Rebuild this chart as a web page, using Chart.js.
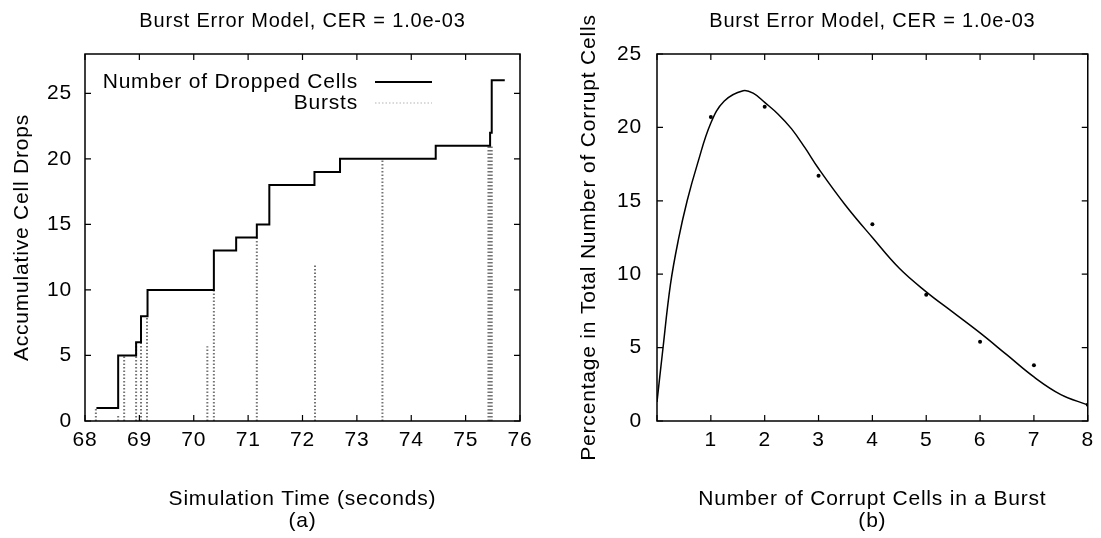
<!DOCTYPE html>
<html lang="en">
<head>
<meta charset="UTF-8">
<title>Burst Error Model</title>
<script src="https://cdn.jsdelivr.net/npm/chart.js"></script>
<style>
  body { margin: 0; background: #fff; }
  .box { position: absolute; top: 0; height: 538px; }
</style>
</head>
<body>
<div class="box" style="left:0;width:550px"><canvas id="chartA"></canvas></div>
<div class="box" style="left:550px;width:551px"><canvas id="chartB"></canvas></div>
<script>
// (a) step plot of dropped cells
var stepTimes  = [68.21, 68.61, 68.94, 69.03, 69.15, 70.37, 70.78, 71.16, 71.39, 72.22, 72.69, 74.45, 75.45, 75.48, 75.72];
var stepCounts = [1, 5, 6, 8, 10, 13, 14, 15, 18, 19, 20, 21, 22, 26, 26];
// bursts (repeated times = several bursts on top of each other)
var burstTimes   = [68.20, 68.61, 68.72, 68.72, 68.94, 69.03, 69.03, 69.14, 69.14, 70.25, 70.37, 70.37, 71.16, 71.16, 71.16, 72.23, 73.47, 73.47, 73.47, 75.42, 75.44, 75.46, 75.48];
var burstHeights = [1, 0.5, 5, 5, 6, 8, 8, 8, 8, 5.7, 10, 10, 14, 14, 14, 12, 20, 20, 20, 21, 21, 21, 21];
var xTicksA = [68, 69, 70, 71, 72, 73, 74, 75, 76];
var yTicksA = [0, 5, 10, 15, 20, 25];

// (b) distribution of burst sizes
var burstSizes = [1, 2, 3, 4, 5, 6, 7, 8];
var percents   = [20.7, 21.4, 16.7, 13.4, 8.6, 5.4, 3.8, 1.1];
var fitX = [0, 0.1, 0.25, 0.4, 0.56, 0.75, 1.0, 1.25, 1.6, 1.8, 2.0, 2.25, 2.5, 2.75, 3.0, 3.5, 4.0, 4.5, 5.0, 5.5, 6.0, 6.5, 7.0, 7.5, 8.0];
var fitY = [1.3, 4.6, 9.3, 12.4, 15.0, 17.5, 20.3, 21.8, 22.5, 22.3, 21.7, 20.9, 19.9, 18.6, 17.2, 14.7, 12.5, 10.4, 8.8, 7.4, 6.0, 4.5, 3.0, 1.8, 1.1];
var yTicksB = [0, 5, 10, 15, 20, 25];

var FONT = '"Liberation Sans", Arial, Helvetica, sans-serif';
Chart.defaults.font.family = FONT;
Chart.defaults.color = '#000';

// slightly wider letter spacing, like the scanned figure
var spacing = {
  id: 'spacing',
  beforeUpdate: function(c) { c.ctx.letterSpacing = '0.8px'; },
  beforeLayout: function(c) { c.ctx.letterSpacing = '0.8px'; },
  beforeDraw: function(c) { c.ctx.letterSpacing = '0.8px'; }
};

// gnuplot style frame with inward ticks on all four sides
var frame = {
  id: 'frame',
  afterDatasetsDraw: function(c) {
    var ctx = c.ctx, a = c.chartArea, len = 6;
    var xs = c.scales.x, ys = c.scales.y;
    ctx.save();
    ctx.strokeStyle = '#000';
    ctx.lineWidth = 1.5;
    ctx.strokeRect(a.left, a.top, a.right - a.left, a.bottom - a.top);
    ctx.lineWidth = 1.2;
    ctx.beginPath();
    xs.ticks.forEach(function(t) {
      var px = xs.getPixelForValue(t.value);
      ctx.moveTo(px, a.bottom); ctx.lineTo(px, a.bottom - len);
      ctx.moveTo(px, a.top); ctx.lineTo(px, a.top + len);
    });
    ys.ticks.forEach(function(t) {
      var py = ys.getPixelForValue(t.value);
      ctx.moveTo(a.left, py); ctx.lineTo(a.left + len, py);
      ctx.moveTo(a.right, py); ctx.lineTo(a.right - len, py);
    });
    ctx.stroke();
    ctx.restore();
  }
};

// key drawn inside the plot, text right aligned, sample line to the right
var keyBox = {
  id: 'keyBox',
  afterDatasetsDraw: function(c) {
    var ctx = c.ctx, a = c.chartArea;
    var tx = a.left + 273, y0 = a.top + 28;
    ctx.save();
    ctx.font = '21px ' + FONT;
    ctx.fillStyle = '#000';
    ctx.textAlign = 'right';
    ctx.textBaseline = 'middle';
    c.data.datasets.forEach(function(ds, i) {
      var y = y0 + i * 21;
      ctx.fillText(ds.label, tx, y);
      ctx.beginPath();
      ctx.strokeStyle = i === 0 ? ds.borderColor : 'rgba(0,0,0,0.15)';
      ctx.lineWidth = ds.borderWidth;
      ctx.setLineDash(ds.borderDash || []);
      ctx.moveTo(tx + 17, y);
      ctx.lineTo(tx + 74, y);
      ctx.stroke();
    });
    ctx.restore();
  }
};

var stepData = stepTimes.map(function(t, i) { return { x: t, y: stepCounts[i] }; });
var burstData = [];
burstTimes.forEach(function(t, i) {
  burstData.push({ x: t, y: 0 }, { x: t, y: burstHeights[i] }, { x: t, y: null });
});

new Chart(document.getElementById('chartA'), {
  type: 'line',
  data: {
    datasets: [{
      label: 'Number of Dropped Cells',
      data: stepData,
      stepped: true,
      borderColor: '#000',
      borderWidth: 2,
      pointRadius: 0,
      fill: false
    }, {
      label: 'Bursts',
      data: burstData,
      borderColor: 'rgba(0,0,0,0.55)',
      borderWidth: 2,
      borderDash: [1.5, 2],
      pointRadius: 0,
      spanGaps: false,
      fill: false
    }]
  },
  options: {
    responsive: true,
    maintainAspectRatio: false,
    animation: false,
    layout: { padding: { left: 0, right: 30, top: 0, bottom: 0 } },
    plugins: {
      legend: { display: false },
      tooltip: { enabled: false },
      title: {
        display: true,
        text: 'Burst Error Model, CER = 1.0e-03',
        fullSize: false,
        font: { size: 20, weight: 'normal', lineHeight: 1.2 },
        padding: { top: 9, bottom: 21 }
      }
    },
    scales: {
      x: {
        type: 'linear', min: 68, max: 76,
        afterFit: function(s) { s.height = 117; },
        afterBuildTicks: function(s) { s.ticks = xTicksA.map(function(v) { return { value: v }; }); },
        grid: { display: false, drawTicks: false },
        border: { display: false },
        ticks: { font: { size: 21 }, padding: 7, maxRotation: 0 },
        title: {
          display: true,
          text: ['Simulation Time (seconds)', '(a)'],
          font: { size: 21, lineHeight: 1.05 },
          padding: { top: 0, bottom: 6 }
        }
      },
      y: {
        min: 0, max: 28,
        afterFit: function(s) { s.width = 85; },
        afterBuildTicks: function(s) { s.ticks = yTicksA.map(function(v) { return { value: v }; }); },
        grid: { display: false, drawTicks: false },
        border: { display: false },
        ticks: { font: { size: 21 }, padding: 13 },
        title: {
          display: true,
          text: 'Accumulative Cell Drops',
          font: { size: 21 },
          padding: { top: 10, bottom: 0 }
        }
      }
    }
  },
  plugins: [spacing, frame, keyBox]
});

var fitData = fitX.map(function(x, i) { return { x: x, y: fitY[i] }; });
var obsData = burstSizes.map(function(x, i) { return { x: x, y: percents[i] }; });

new Chart(document.getElementById('chartB'), {
  type: 'line',
  data: {
    datasets: [{
      label: 'fit',
      data: fitData,
      borderColor: '#000',
      borderWidth: 1.5,
      tension: 0.4,
      pointRadius: 0,
      fill: false
    }, {
      label: 'measured',
      data: obsData,
      showLine: false,
      pointRadius: 2,
      pointBackgroundColor: '#000',
      pointBorderWidth: 0
    }]
  },
  options: {
    responsive: true,
    maintainAspectRatio: false,
    animation: false,
    layout: { padding: { left: 0, right: 11, top: 0, bottom: 0 } },
    plugins: {
      legend: { display: false },
      tooltip: { enabled: false },
      title: {
        display: true,
        text: 'Burst Error Model, CER = 1.0e-03',
        fullSize: false,
        font: { size: 20, weight: 'normal', lineHeight: 1.2 },
        padding: { top: 9, bottom: 21 }
      }
    },
    scales: {
      x: {
        type: 'linear', min: 0, max: 8,
        afterFit: function(s) { s.height = 117; },
        ticks: {
          stepSize: 1, font: { size: 21 }, padding: 7, maxRotation: 0,
          callback: function(v) { return v === 0 ? '' : v; }
        },
        grid: { display: false, drawTicks: false },
        border: { display: false },
        title: {
          display: true,
          text: ['Number of Corrupt Cells in a Burst', '(b)'],
          font: { size: 21, lineHeight: 1.05 },
          padding: { top: 0, bottom: 6 }
        }
      },
      y: {
        min: 0, max: 25,
        afterFit: function(s) { s.width = 107; },
        afterBuildTicks: function(s) { s.ticks = yTicksB.map(function(v) { return { value: v }; }); },
        grid: { display: false, drawTicks: false },
        border: { display: false },
        ticks: { font: { size: 21 }, padding: 15 },
        title: {
          display: true,
          text: 'Percentage in Total Number of Corrupt Cells',
          font: { size: 21 },
          padding: { top: 27, bottom: 0 }
        }
      }
    }
  },
  plugins: [spacing, frame]
});
</script>
</body>
</html>
